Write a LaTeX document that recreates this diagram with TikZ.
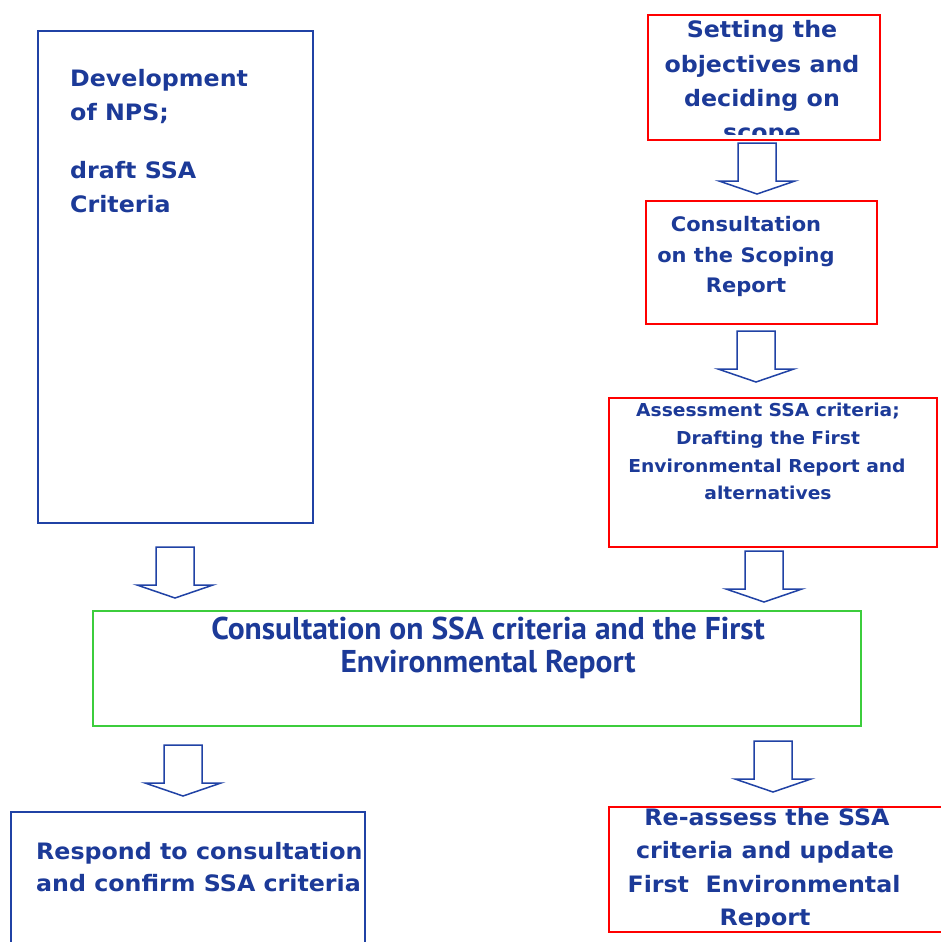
\documentclass[tikz,border=0pt]{standalone}
\usepackage{fontspec}
\setmainfont{DejaVu Sans}[FakeStretch=1.05]
\newfontfamily\greenfont{PT Sans}
\definecolor{tblue}{RGB}{28,58,152}
\definecolor{lblue}{RGB}{32,66,165}
\definecolor{bred}{RGB}{255,0,0}
\definecolor{bgreen}{RGB}{60,205,60}
\tikzset{
  x=1pt, y=-1pt,
  boxbase/.style={rectangle, inner sep=0pt, anchor=north west},
  bluebox/.style={boxbase, draw=lblue, line width=1.8pt},
  redbox/.style={boxbase, draw=bred, line width=2.2pt},
  greenbox/.style={boxbase, draw=bgreen, line width=2pt},
  lbl/.style={text=tblue, inner sep=0pt, anchor=base},
  lblL/.style={lbl, anchor=base west},
  arrowline/.style={draw=lblue, line width=1.5pt, fill=white, line join=miter},
  blockarrow/.pic={\draw[arrowline] (-19,0) -- (19,0) -- (19,38) -- (38,38) -- (0,51) -- (-38,38) -- (-19,38) -- cycle;}
}
\begin{document}
\begin{tikzpicture}
\useasboundingbox[fill=white] (0,0) rectangle (941,942);

% boxes
\node[bluebox, minimum width=275pt, minimum height=492pt] (dev) at (37,30) {};
\node[redbox, minimum width=232pt, minimum height=125pt] (setting) at (647,14) {};
\node[redbox, minimum width=231pt, minimum height=123pt] (scoping) at (645,200) {};
\node[redbox, minimum width=328pt, minimum height=149pt] (assess) at (608,397) {};
\node[greenbox, minimum width=768pt, minimum height=115pt] (consult) at (92,610) {};
\node[bluebox, minimum width=354pt, minimum height=160pt] (respond) at (10,811) {};
\node[redbox, minimum width=340pt, minimum height=125pt] (reassess) at (608,806) {};

% texts
\begin{scope}[font=\bfseries\fontsize{22.6}{26}\selectfont]
  \node[lblL] (dev1) at (70,86) {Development};
  \node[lblL] (dev2) at (70,120) {of NPS;};
  \node[lblL] (dev3) at (70,178) {draft SSA};
  \node[lblL] (dev4) at (70,212) {Criteria};
  \begin{scope}
    \clip (647,14) rectangle (879,134);
    \foreach \t [count=\i] in {Setting the,objectives and,deciding on,scope}
      \node[lbl] (set\i) at (762,{38+34*(\i-1)}) {\t};
  \end{scope}
  \node[lblL] (resp1) at (36,859) {Respond to consultation};
  \node[lblL] (resp2) at (36,891) {and confirm SSA criteria};
  \begin{scope}
    \clip (608,806) rectangle (941,926);
    \node[lbl] (re1) at (767,825) {Re-assess the SSA};
    \node[lbl] (re2) at (765,858) {criteria and update};
    \node[lbl] (re3) at (764,892) {First\ \ Environmental};
    \node[lbl] (re4) at (765,925) {Report};
  \end{scope}
\end{scope}
\begin{scope}[font=\bfseries\fontsize{20}{24}\selectfont]
  \node[lbl] (sc1) at (746,231) {Consultation};
  \node[lbl] (sc2) at (746,262) {on the Scoping};
  \node[lbl] (sc3) at (746,292) {Report};
\end{scope}
\begin{scope}[font=\bfseries\fontsize{17.8}{21}\selectfont]
  \node[lbl] (as1) at (768,416) {Assessment SSA criteria;};
  \node[lbl] (as2) at (768,444) {Drafting the First};
  \node[lbl] (as3) at (767,472) {Environmental Report and};
  \node[lbl] (as4) at (768,499) {alternatives};
\end{scope}
\begin{scope}[font=\greenfont\bfseries\fontsize{31.5}{34}\selectfont]
  \node[lbl] (co1) at (488,639) {Consultation on SSA criteria and the First};
  \node[lbl] (co2) at (488,672) {Environmental Report};
\end{scope}

% block arrows
\pic (a1) at (757,143) {blockarrow};
\pic (a2) at (756,331) {blockarrow};
\pic (a3) at (175,547) {blockarrow};
\pic (a4) at (764,551) {blockarrow};
\pic (a5) at (183,745) {blockarrow};
\pic (a6) at (773,741) {blockarrow};
\end{tikzpicture}
\end{document}
